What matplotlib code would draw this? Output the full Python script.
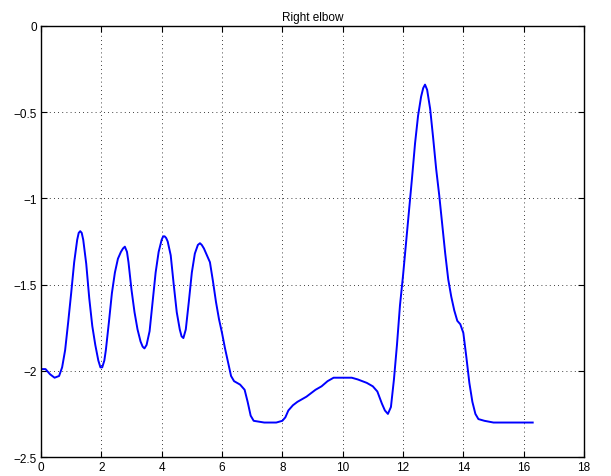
import numpy as np
import matplotlib
matplotlib.use('Agg')
import matplotlib.pyplot as plt

# Right elbow angle trace
t = [0.0, 0.15, 0.3, 0.45, 0.6, 0.7, 0.8, 0.9, 1.0, 1.1, 1.2, 1.25, 1.3, 1.35, 1.4, 1.5, 1.6,
     1.7, 1.8, 1.9, 1.97, 2.03, 2.1, 2.15, 2.25, 2.35, 2.45, 2.55, 2.65, 2.72, 2.78, 2.85, 2.9,
     3.0, 3.1, 3.2, 3.3, 3.37, 3.43, 3.5, 3.6, 3.7, 3.8, 3.9, 4.0, 4.05, 4.1, 4.15, 4.2, 4.3,
     4.4, 4.5, 4.6, 4.66, 4.72, 4.8, 4.9, 5.0, 5.1, 5.2, 5.27, 5.33, 5.4, 5.5, 5.6, 5.7, 5.8,
     5.9, 6.0, 6.1, 6.2, 6.3, 6.4, 6.6, 6.75, 6.85, 6.95, 7.05, 7.4, 7.8, 8.0, 8.1, 8.2, 8.35,
     8.5, 8.8, 9.1, 9.3, 9.5, 9.7, 10.0, 10.3, 10.5, 10.8, 11.0, 11.15, 11.3, 11.4, 11.5, 11.6,
     11.7, 11.8, 11.9, 12.0, 12.1, 12.2, 12.3, 12.4, 12.5, 12.6, 12.67, 12.73, 12.8, 12.9,
     13.0, 13.1, 13.2, 13.3, 13.4, 13.5, 13.6, 13.7, 13.8, 13.9, 14.0, 14.1, 14.2, 14.3, 14.4,
     14.5, 14.7, 15.0, 16.3]
angle = [-1.99, -1.99, -2.02, -2.04, -2.03, -1.98, -1.88, -1.72, -1.55, -1.37, -1.24, -1.20,
         -1.19, -1.20, -1.24, -1.38, -1.58, -1.74, -1.85, -1.94, -1.98, -1.98, -1.94, -1.88,
         -1.72, -1.55, -1.43, -1.35, -1.31, -1.29, -1.28, -1.31, -1.37, -1.53, -1.66, -1.76,
         -1.83, -1.86, -1.87, -1.85, -1.77, -1.60, -1.43, -1.31, -1.24, -1.22, -1.22, -1.23,
         -1.25, -1.33, -1.50, -1.66, -1.76, -1.80, -1.81, -1.76, -1.60, -1.43, -1.32, -1.27,
         -1.26, -1.27, -1.29, -1.33, -1.37, -1.48, -1.60, -1.70, -1.78, -1.87, -1.95, -2.03,
         -2.06, -2.08, -2.11, -2.18, -2.26, -2.29, -2.30, -2.30, -2.29, -2.27, -2.23, -2.20,
         -2.18, -2.15, -2.11, -2.09, -2.06, -2.04, -2.04, -2.04, -2.05, -2.07, -2.09, -2.12,
         -2.19, -2.23, -2.25, -2.21, -2.05, -1.85, -1.62, -1.45, -1.26, -1.07, -0.88, -0.68,
         -0.52, -0.41, -0.36, -0.34, -0.37, -0.48, -0.65, -0.83, -0.98, -1.15, -1.32, -1.47,
         -1.57, -1.65, -1.71, -1.73, -1.78, -1.92, -2.07, -2.18, -2.25, -2.28, -2.29, -2.30,
         -2.30]

xticks = [0, 2, 4, 6, 8, 10, 12, 14, 16, 18]
yticks = [-2.5, -2, -1.5, -1, -0.5, 0]
ylabels = ['\u22122.5', '\u22122', '\u22121.5', '\u22121', '\u22120.5', '0']

plt.rcParams['font.family'] = ['Liberation Sans', 'DejaVu Sans']

fig = plt.figure(figsize=(6.11, 4.77), dpi=100)
ax = fig.add_axes([0.0671, 0.0398, 0.8887, 0.9036])
ax.plot(t, angle, color='#0000ff', lw=1.4)

ax.set_xlim(0, 18)
ax.set_ylim(-2.5, 0)
ax.set_xticks(xticks)
ax.set_yticks(yticks)
ax.set_yticklabels(ylabels)
ax.tick_params(direction='in', top=True, right=True, length=4, width=0.8,
               labelsize=8.5, pad=3)
ax.grid(True, linestyle=(0, (1, 4)), color='black', linewidth=0.6)
for s in ax.spines.values():
    s.set_linewidth(1.0)
ax.set_title('Right elbow', fontsize=8.5, pad=4)

fig.savefig('out.png', dpi=100)
